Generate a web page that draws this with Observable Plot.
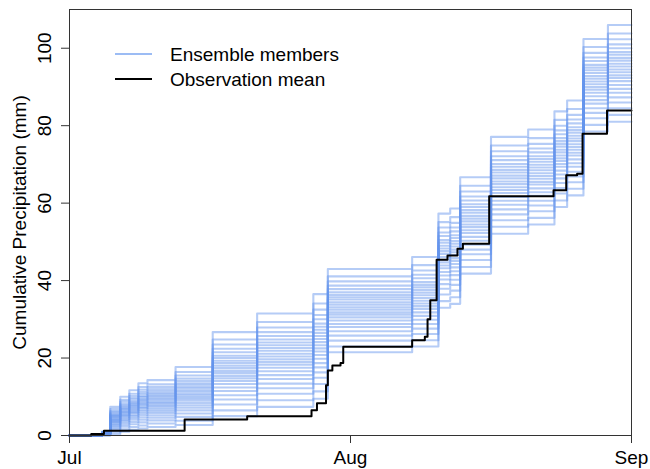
<!DOCTYPE html>
<html>
<head>
<meta charset="utf-8">
<script src="https://cdn.jsdelivr.net/npm/d3@7"></script>
<script src="https://cdn.jsdelivr.net/npm/@observablehq/plot@0.6"></script>
<style>
  body { margin: 0; background: #fff; }
  #chart { position: relative; width: 650px; height: 469px; font-family: "Liberation Sans", Arial, sans-serif; }
  #legend { position: absolute; left: 0; top: 0; pointer-events: none; }
</style>
</head>
<body>
<div id="chart"></div>
<script>
// Days since 1 July at which the ensemble accumulations step up
const ensembleDays = [3.6, 4.5, 5.6, 6.6, 7.6, 8.6, 11.7, 15.8, 20.7, 26.9, 28.5, 37.8, 40.7, 42.0, 43.1, 46.5, 50.6, 53.5, 54.9, 56.7, 59.4];

// Cumulative precipitation (mm) of each ensemble member after each step
const ensembleMembers = [
  [0, 0.3, 1.0, 1.5, 1.8, 2.2, 2.7, 8.0, 10.8, 13.3, 23.0, 24.6, 33.0, 34.0, 43.5, 55.6, 57.9, 62.5, 65.4, 83.3, 86.0],
  [0.1, 0.8, 1.6, 2.2, 2.6, 3.1, 3.8, 5.0, 7.4, 9.5, 25.8, 27.6, 36.4, 37.4, 41.8, 53.9, 56.2, 60.7, 63.7, 78.5, 81.0],
  [0.1, 1.3, 2.3, 2.9, 3.4, 3.9, 4.8, 10.4, 13.4, 16.3, 21.5, 23.0, 34.7, 35.7, 46.8, 52.1, 54.5, 59.0, 62.0, 80.2, 82.8],
  [0.2, 1.7, 2.8, 3.5, 4.1, 4.6, 5.7, 6.5, 9.1, 11.4, 28.0, 29.9, 39.1, 40.2, 45.3, 58.4, 60.6, 65.2, 68.1, 81.9, 84.5],
  [0.3, 2.1, 3.3, 4.1, 4.7, 5.2, 6.5, 9.3, 12.2, 14.9, 24.5, 26.2, 41.3, 42.4, 49.3, 57.1, 59.4, 63.9, 66.9, 86.6, 89.5],
  [0.3, 2.4, 3.7, 4.6, 5.3, 5.8, 7.2, 14.1, 17.5, 20.8, 31.2, 33.4, 42.2, 43.4, 53.0, 61.6, 63.8, 68.4, 71.3, 85.7, 88.5],
  [0.3, 2.7, 4.1, 5.0, 5.8, 6.3, 7.8, 11.5, 14.6, 17.6, 26.9, 28.8, 37.9, 38.9, 48.0, 60.6, 62.8, 67.4, 70.3, 89.3, 92.3],
  [0.4, 3.0, 4.4, 5.4, 6.3, 6.8, 8.4, 12.4, 15.6, 18.7, 31.8, 34.1, 46.1, 47.3, 53.8, 66.4, 68.5, 73.1, 76.0, 90.7, 93.8],
  [0.4, 3.3, 4.8, 5.8, 6.7, 7.3, 9.0, 16.1, 19.7, 23.3, 28.8, 30.9, 40.3, 41.4, 51.3, 59.6, 61.9, 66.4, 69.4, 84.5, 87.3],
  [0.5, 3.5, 5.1, 6.1, 7.1, 7.7, 9.5, 13.3, 16.6, 19.8, 33.1, 35.5, 44.7, 45.8, 55.3, 64.1, 66.3, 70.9, 73.8, 92.8, 96.0],
  [0.5, 3.7, 5.3, 6.4, 7.4, 8.0, 9.9, 14.8, 18.3, 21.7, 29.7, 31.8, 43.9, 45.1, 50.3, 63.4, 65.5, 70.1, 73.0, 87.6, 90.5],
  [0.5, 3.9, 5.6, 6.7, 7.8, 8.4, 10.4, 18.0, 21.9, 25.7, 35.7, 38.3, 46.9, 48.0, 57.5, 65.6, 67.7, 72.3, 75.2, 90.0, 93.0],
  [0.5, 4.1, 5.9, 7.0, 8.1, 8.7, 10.8, 15.4, 19.0, 22.5, 30.5, 32.7, 45.4, 46.6, 52.3, 64.9, 67.0, 71.6, 74.5, 88.5, 91.5],
  [0.6, 4.3, 6.1, 7.3, 8.5, 9.1, 11.3, 16.7, 20.4, 24.1, 34.4, 36.9, 49.8, 51.0, 59.7, 68.6, 70.7, 75.3, 78.2, 96.7, 100.0],
  [0.6, 4.6, 6.4, 7.6, 8.8, 9.5, 11.7, 20.0, 24.0, 28.1, 32.5, 34.8, 43.2, 44.3, 54.5, 62.6, 64.8, 69.4, 72.3, 91.4, 94.5],
  [0.6, 4.8, 6.7, 7.9, 9.2, 9.8, 12.2, 17.4, 21.1, 24.9, 37.0, 39.6, 49.0, 50.2, 56.7, 69.4, 71.4, 76.0, 78.9, 93.6, 96.8],
  [0.7, 5.0, 6.9, 8.2, 9.5, 10.2, 12.6, 21.5, 25.7, 30.0, 35.1, 37.6, 51.5, 52.7, 63.0, 71.1, 73.1, 77.8, 80.6, 95.0, 98.3],
  [0.7, 5.2, 7.2, 8.5, 9.9, 10.6, 13.1, 18.7, 22.6, 26.5, 33.8, 36.2, 47.6, 48.8, 56.0, 67.9, 69.9, 74.6, 77.4, 92.1, 95.3],
  [0.7, 5.4, 7.5, 8.8, 10.2, 10.9, 13.5, 19.3, 23.3, 27.3, 38.7, 41.5, 55.1, 56.4, 61.7, 74.9, 76.8, 81.5, 84.3, 98.8, 102.3],
  [0.8, 5.7, 7.8, 9.3, 10.7, 11.4, 14.1, 24.8, 29.3, 34.1, 39.8, 42.6, 50.5, 51.7, 58.2, 67.1, 69.2, 73.8, 76.7, 94.3, 97.5],
  [0.8, 6.0, 8.2, 9.7, 11.2, 11.9, 14.7, 20.6, 24.8, 28.9, 36.3, 38.9, 48.3, 49.5, 59.0, 72.1, 74.1, 78.8, 81.6, 95.7, 99.0],
  [0.9, 6.3, 8.7, 10.2, 11.8, 12.5, 15.5, 26.7, 31.5, 36.5, 37.8, 40.6, 52.4, 53.7, 66.7, 77.1, 79.0, 83.7, 86.5, 102.4, 106.0],
  [0.9, 6.8, 9.2, 10.8, 12.5, 13.2, 16.4, 22.4, 26.7, 31.1, 43.0, 46.1, 53.7, 54.9, 60.7, 70.1, 72.1, 76.8, 79.6, 97.6, 101.0],
  [1.0, 7.4, 10.0, 11.7, 13.5, 14.3, 17.7, 23.5, 27.9, 32.5, 41.1, 44.0, 57.3, 58.6, 64.5, 73.4, 75.3, 80.0, 82.8, 100.3, 103.8]
];

// Observed (station mean) cumulative precipitation
const obsDays   = [0, 2.4, 3.8, 12.7, 19.6, 26.7, 27.3, 28.3, 28.5, 29.0, 29.9, 30.2, 37.8, 39.2, 39.5, 39.8, 40.5, 41.7, 42.8, 43.4, 46.3, 53.4, 54.8, 56.0, 56.6, 59.3];
const obsValues = [0, 0.4, 1.2, 4.1, 5.0, 6.5, 8.3, 13.0, 16.8, 18.1, 18.7, 22.9, 24.6, 25.5, 30.0, 34.9, 45.4, 46.5, 48.2, 49.5, 61.8, 63.3, 67.2, 67.6, 77.9, 83.9];

// Axis ticks
const monthTickDays = [0, 31, 62];
const monthLabels = ["Jul", "Aug", "Sep"];
const yTicks = [0, 20, 40, 60, 80, 100];

const seasonEnd = 62; // 1 September

const ensembleRows = ensembleMembers.flatMap((vals, m) => [
  {member: m, day: 0, value: 0},
  ...vals.map((v, i) => ({member: m, day: ensembleDays[i], value: v})),
  {member: m, day: seasonEnd, value: vals[vals.length - 1]}
]);

const obsRows = obsDays.map((d, i) => ({day: d, value: obsValues[i]}));
obsRows.push({day: seasonEnd, value: obsValues[obsValues.length - 1]});

const ensembleColor = "#6495ED";

const plot = Plot.plot({
  width: 650,
  height: 469,
  marginLeft: 69,
  marginRight: 19,
  marginTop: 9,
  marginBottom: 34,
  style: {fontFamily: "'Liberation Sans', Arial, sans-serif", fontSize: "19px", color: "#000", background: "#fff"},
  x: {domain: [0, seasonEnd]},
  y: {domain: [0, 110]},
  marks: [
    Plot.line(ensembleRows, {x: "day", y: "value", z: "member", curve: "step-after",
      stroke: ensembleColor, strokeOpacity: 0.48, strokeWidth: 2.1}),
    Plot.line(obsRows, {x: "day", y: "value", curve: "step-after", stroke: "#000", strokeWidth: 2}),
    Plot.frame({stroke: "#333"}),
    Plot.axisX({ticks: monthTickDays, tickFormat: d => monthLabels[monthTickDays.indexOf(d)],
      tickSize: 8, tickPadding: 7, label: null, stroke: "#333"}),
    Plot.axisY({ticks: yTicks, tickSize: 8, tickRotate: -90, tickPadding: 11, stroke: "#333",
      label: "Cumulative Precipitation (mm)", labelAnchor: "center", labelOffset: 57, labelArrow: "none"})
  ]
});

const chart = document.getElementById("chart");
chart.appendChild(plot);

// Legend in the upper-left corner of the panel
const ns = "http://www.w3.org/2000/svg";
const legend = document.createElementNS(ns, "svg");
legend.setAttribute("id", "legend");
legend.setAttribute("width", 650);
legend.setAttribute("height", 469);
const legendItems = [
  {label: "Ensemble members", color: ensembleColor, width: 1.5, opacity: 0.85, y: 54},
  {label: "Observation mean", color: "#000", width: 2, opacity: 1, y: 79}
];
for (const item of legendItems) {
  const line = document.createElementNS(ns, "line");
  line.setAttribute("x1", 115); line.setAttribute("x2", 152);
  line.setAttribute("y1", item.y); line.setAttribute("y2", item.y);
  line.setAttribute("stroke", item.color);
  line.setAttribute("stroke-width", item.width);
  line.setAttribute("stroke-opacity", item.opacity);
  legend.appendChild(line);
  const text = document.createElementNS(ns, "text");
  text.setAttribute("x", 170);
  text.setAttribute("y", item.y + 7);
  text.setAttribute("font-size", 19);
  text.setAttribute("font-family", "'Liberation Sans', Arial, sans-serif");
  text.textContent = item.label;
  legend.appendChild(text);
}
chart.appendChild(legend);
</script>
</body>
</html>
